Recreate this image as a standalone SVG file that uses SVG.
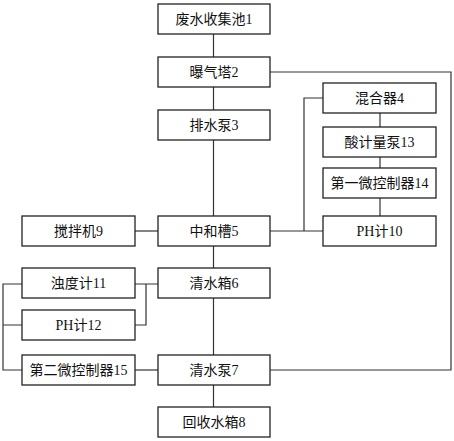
<svg xmlns="http://www.w3.org/2000/svg" width="454" height="441" viewBox="0 0 454 441">
<style>
.b{fill:#fff;stroke:#222;stroke-width:1.3}
.t{font-family:"Liberation Serif","Noto Sans CJK SC",serif;font-size:14px;fill:#111;text-anchor:middle;dominant-baseline:central}
.c{fill:none;stroke:#333;stroke-width:1.2}
</style>
<rect width="454" height="441" fill="#fff"/>
<g id="connectors">
<path class="c" d="M213.5 34V57M213.5 87V110M213.5 140V216M213.5 246V268M213.5 298V355M213.5 385V407"/>
<path class="c" d="M270 72H451V370H270"/>
<path class="c" d="M270 231H323M304 231V98H323"/>
<path class="c" d="M380 113V127M380 157V168M380 198V216"/>
<path class="c" d="M135 231H158"/>
<path class="c" d="M135 284H158M146 284V325H135"/>
<path class="c" d="M22 284H3V370H22M3 325H22"/>
<path class="c" d="M135 370H158"/>
</g>
<g id="n1"><rect class="b" x="158" y="4" width="112" height="30"/><text class="t" x="214" y="19">废水收集池1</text></g>
<g id="n2"><rect class="b" x="158" y="57" width="112" height="30"/><text class="t" x="214" y="72">曝气塔2</text></g>
<g id="n3"><rect class="b" x="158" y="110" width="112" height="30"/><text class="t" x="214" y="125">排水泵3</text></g>
<g id="n5"><rect class="b" x="158" y="216" width="112" height="30"/><text class="t" x="214" y="231">中和槽5</text></g>
<g id="n6"><rect class="b" x="158" y="268" width="112" height="30"/><text class="t" x="214" y="283">清水箱6</text></g>
<g id="n7"><rect class="b" x="158" y="355" width="112" height="30"/><text class="t" x="214" y="370">清水泵7</text></g>
<g id="n8"><rect class="b" x="158" y="407" width="112" height="30"/><text class="t" x="214" y="422">回收水箱8</text></g>
<g id="n4"><rect class="b" x="323" y="83" width="113" height="30"/><text class="t" x="379.5" y="98">混合器4</text></g>
<g id="n13"><rect class="b" x="323" y="127" width="113" height="30"/><text class="t" x="379.5" y="142">酸计量泵13</text></g>
<g id="n14"><rect class="b" x="323" y="168" width="113" height="30"/><text class="t" x="379.5" y="183">第一微控制器14</text></g>
<g id="n10"><rect class="b" x="323" y="216" width="113" height="30"/><text class="t" x="379.5" y="231">PH计10</text></g>
<g id="n9"><rect class="b" x="22" y="216" width="113" height="30"/><text class="t" x="78.5" y="231">搅拌机9</text></g>
<g id="n11"><rect class="b" x="22" y="268" width="113" height="30"/><text class="t" x="78.5" y="283">浊度计11</text></g>
<g id="n12"><rect class="b" x="22" y="310" width="113" height="30"/><text class="t" x="78.5" y="325">PH计12</text></g>
<g id="n15"><rect class="b" x="22" y="355" width="113" height="30"/><text class="t" x="78.5" y="370">第二微控制器15</text></g>
</svg>
